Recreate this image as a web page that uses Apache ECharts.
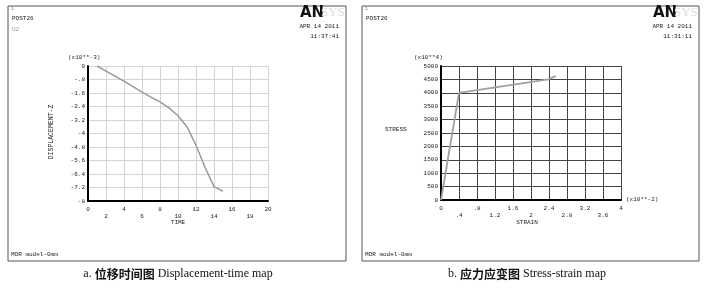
<!DOCTYPE html>
<html>
<head>
<meta charset="utf-8">
<script src="https://cdn.jsdelivr.net/npm/echarts@6/dist/echarts.min.js"></script>
<style>
	html, body { margin: 0; padding: 0; background: #fff; }
	#chart { width: 715px; height: 290px; }
</style>
</head>
<body>
<div id="chart"></div>
<script>
// 位移-时间 (a)
var timeVals = [1, 2, 3, 4, 5, 6, 7, 8, 9, 10, 11, 12, 13, 14, 15];
var dispVals = [0, -0.3, -0.6, -0.9, -1.22, -1.55, -1.85, -2.13, -2.48, -2.95, -3.6, -4.7, -6.0, -7.15, -7.42];
var timeTicks = ['0', '2', '4', '6', '8', '10', '12', '14', '16', '18', '20'];
var dispTicks = ['-8', '-7.2', '-6.4', '-5.6', '-4.8', '-4', '-3.2', '-2.4', '-1.6', '-.8', '0'];

// 应力-应变 (b)
var strainVals = [0, 0.4, 2.38, 2.55];
var stressVals = [0, 4000, 4500, 4620];
var strainTicks = ['0', '.4', '.8', '1.2', '1.6', '2', '2.4', '2.8', '3.2', '3.6', '4'];
var stressTicks = ['0', '500', '1000', '1500', '2000', '2500', '3000', '3500', '4000', '4500', '5000'];

var mono = '"Liberation Mono", "DejaVu Sans Mono", monospace';

function pairs(xs, ys) {
	var out = [];
	for (var i = 0; i < xs.length; i++) out.push([xs[i], ys[i]]);
	return out;
}

// 刻度文字: 奇数位放第二行
function tickFmt(list, min, step, twoRows) {
	return function(v) {
		var i = Math.round((v - min) / step);
		var s = list[i] === undefined ? '' : list[i];
		return (twoRows && i % 2 === 1) ? '\n' + s : s;
	};
}

function txt(x, y, s, opt) {
	opt = opt || {};
	return {
		type: 'text',
		x: x,
		y: y,
		rotation: opt.rotation || 0,
		style: {
			text: s,
			font: opt.font || ('6px ' + mono),
			fill: opt.fill || '#222',
			align: opt.align || 'left',
			verticalAlign: 'middle'
		}
	};
}

function panel(x0, x1, post, u2, date, time) {
	var g = [{
		type: 'rect',
		shape: { x: x0, y: 6, width: x1 - x0, height: 255 },
		style: { fill: 'none', stroke: '#555', lineWidth: 1 }
	}];
	g.push(txt(x0 + 3, 9, '1', { fill: '#888', font: '5px ' + mono }));
	g.push(txt(x0 + 4, 18, post));
	if (u2) g.push(txt(x0 + 4, 29, u2, { fill: '#999' }));
	g.push(txt(x1 - 46, 13, 'AN', { font: 'bold 15px "DejaVu Sans", sans-serif', fill: '#111' }));
	g.push(txt(x1 - 25, 13, 'SYS', { font: '13px "Liberation Serif", serif', fill: '#ddd' }));
	g.push(txt(x1 - 7, 26, date, { align: 'right' }));
	g.push(txt(x1 - 7, 36, time, { align: 'right' }));
	g.push(txt(x0 + 3, 254, 'MOR model-0mm'));
	return g;
}

var graphics = []
	.concat(panel(8, 346, 'POST26', 'U2', 'APR 14 2011', '11:37:41'))
	.concat(panel(362, 699, 'POST26', null, 'APR 14 2011', '11:31:11'));

graphics.push(txt(68, 57, '(x10**-3)'));
graphics.push(txt(51, 132, 'DISPLACEMENT-Z', { rotation: Math.PI / 2, align: 'center', font: '6.5px ' + mono }));
graphics.push(txt(178, 222, 'TIME', { align: 'center' }));
graphics.push(txt(414, 57, '(x10**4)'));
graphics.push(txt(385, 129, 'STRESS'));
graphics.push(txt(527, 222, 'STRAIN', { align: 'center' }));
graphics.push(txt(626, 199, '(x10**-2)'));

var capFont = '12px "Liberation Serif", "Noto Sans CJK SC", serif';
graphics.push({
	type: 'text', x: 178, y: 274,
	style: {
		text: '{a|a. }{cn|位移时间图}{a| Displacement-time map}',
		align: 'center', verticalAlign: 'middle',
		rich: {
			a: { font: capFont, fill: '#111' },
			cn: { font: 'bold 12px "Noto Sans CJK SC", sans-serif', fill: '#111' }
		}
	}
});
graphics.push({
	type: 'text', x: 527, y: 274,
	style: {
		text: '{a|b. }{cn|应力应变图}{a| Stress-strain map}',
		align: 'center', verticalAlign: 'middle',
		rich: {
			a: { font: capFont, fill: '#111' },
			cn: { font: 'bold 12px "Noto Sans CJK SC", sans-serif', fill: '#111' }
		}
	}
});

function xAxisOpt(idx, min, max, step, ticks, gridColor) {
	return {
		type: 'value', gridIndex: idx, min: min, max: max, interval: step,
		axisLine: { show: true, onZero: false, lineStyle: { color: '#000', width: 2 } },
		axisTick: { show: false },
		axisLabel: {
			formatter: tickFmt(ticks, min, step, true),
			fontFamily: mono, fontSize: 6, color: '#222', margin: 5, lineHeight: 7,
			showMinLabel: true, showMaxLabel: true
		},
		splitLine: { show: true, lineStyle: { color: gridColor, width: 1 } }
	};
}

function yAxisOpt(idx, min, max, step, ticks, gridColor) {
	return {
		type: 'value', gridIndex: idx, min: min, max: max, interval: step,
		axisLine: { show: true, onZero: false, lineStyle: { color: '#000', width: 2 } },
		axisTick: { show: false },
		axisLabel: {
			formatter: tickFmt(ticks, min, step, false),
			fontFamily: mono, fontSize: 6, color: '#222', margin: 3,
			showMinLabel: true, showMaxLabel: true
		},
		splitLine: { show: true, lineStyle: { color: gridColor, width: 1 } }
	};
}

var option = {
	animation: false,
	backgroundColor: '#fff',
	grid: [
		{ left: 88, top: 66, width: 180, height: 135 },
		{ left: 441, top: 66, width: 180, height: 134 }
	],
	xAxis: [
		xAxisOpt(0, 0, 20, 2, timeTicks, '#d4d4d4'),
		xAxisOpt(1, 0, 4, 0.4, strainTicks, '#444')
	],
	yAxis: [
		yAxisOpt(0, -8, 0, 0.8, dispTicks, '#d4d4d4'),
		yAxisOpt(1, 0, 5000, 500, stressTicks, '#444')
	],
	series: [{
		type: 'line', xAxisIndex: 0, yAxisIndex: 0,
		data: pairs(timeVals, dispVals),
		showSymbol: false, smooth: false,
		lineStyle: { color: '#9a9a9a', width: 1.5 }
	}, {
		type: 'line', xAxisIndex: 1, yAxisIndex: 1,
		data: pairs(strainVals, stressVals),
		showSymbol: false,
		lineStyle: { color: '#a0a0a0', width: 1.8 }
	}],
	graphic: graphics
};

var chart = echarts.init(document.getElementById('chart'));
chart.setOption(option);
</script>
</body>
</html>
